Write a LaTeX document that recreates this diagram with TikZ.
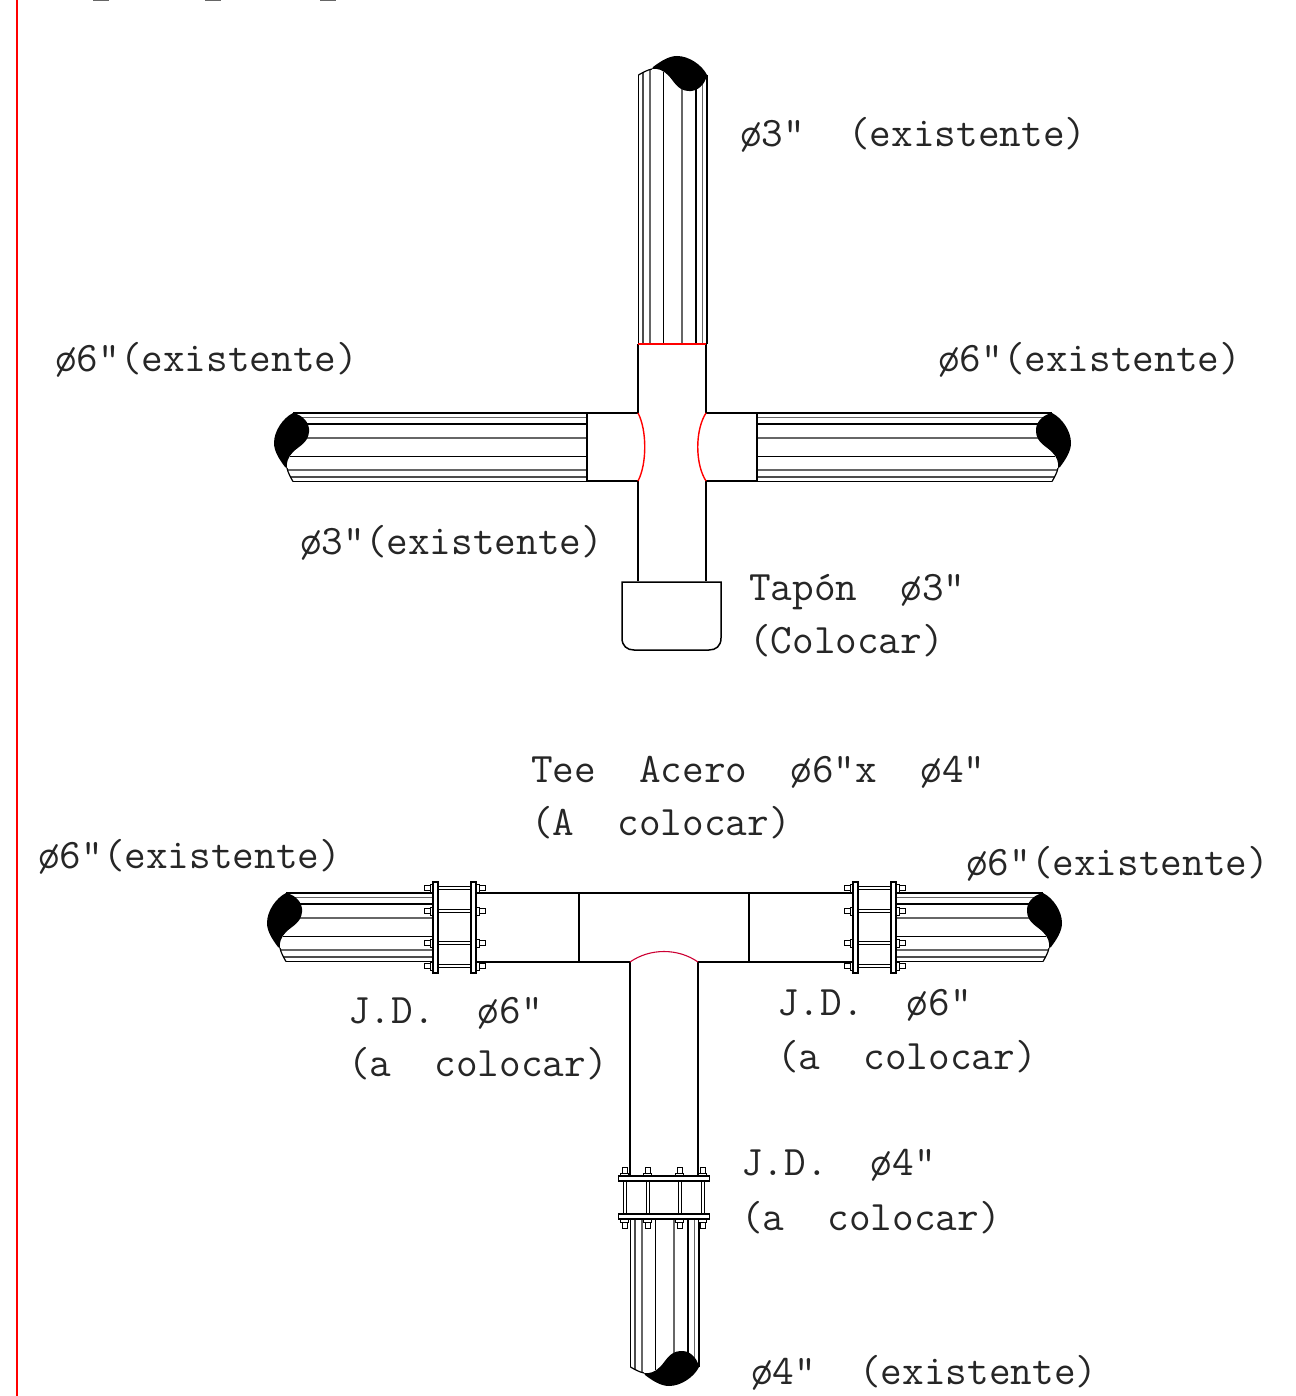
\documentclass[tikz,border=0pt]{standalone}
\usepackage{fontspec}
\tikzset{
  tube/.style={line width=1.2pt},
  seam/.style={line width=1.4pt, red},
  plate/.style={line width=1.2pt, fill=white},
  label/.style={anchor=base west, inner sep=0pt, text=black!85, font=\ttfamily\fontsize{42}{50}\selectfont},
  pics/pipecap/.style={code={
    \fill (0,0) .. controls (10,2) and (17,10) .. (16,19) .. controls (15,30) and (6,33) .. (0,39)
      .. controls (-5,44) and (-7,50) .. (-6,55) -- (-8,54) .. controls (-14,46) and (-19,38) .. (-19,30)
      .. controls (-19,18) and (-10,5) .. (0,0) -- cycle;
    \draw[tube] (-6,55) .. controls (-5,60) and (-2,65) .. (0,68.5);
  }},
  pics/pipe/.style={code={
    \foreach \off/\from/\tone in {0/0/black,4.5/0/black!60,11/0/black,25/0/black!60,43.5/-3/black,57/-5/black!60,64/-3/black!70,68.5/0/black}{
      \draw[tube, \tone] (\from,\off) -- (#1,\off);
    }
  }},
  pics/flange/.style={code={
    \foreach \b in {-39.5,-16.5,15.5,38.5}{
      \draw[plate, line width=1pt] (-16.5,\b-1.5) rectangle (16.5,\b+1.5);
      \draw[plate, line width=.9pt] (-24.5,\b-4) rectangle (-21.5,\b+4);
      \draw[plate, line width=.9pt] (-30.5,\b-2.5) rectangle (-24.5,\b+2.5);
      \draw[plate, line width=.9pt] (21.5,\b-4) rectangle (24.5,\b+4);
      \draw[plate, line width=.9pt] (24.5,\b-2.5) rectangle (30.5,\b+2.5);
    }
    \draw[plate] (-21.5,-45.5) rectangle (-16.5,45.5);
    \draw[plate] (16.5,-45.5) rectangle (21.5,45.5);
  }}
}
\begin{document}
\begin{tikzpicture}[x=1pt, y=-1pt]
  \useasboundingbox (0,0) rectangle (1295,1396);

  % margin line
  \draw[red, line width=2.6pt] (17,0) -- (17,1396);
  \foreach \x in {101,213,328}{
    \draw[black!60, line width=1.5pt] (\x-8,0.5) -- (\x+8,0.5);
  }

  % upper cross
  \pic[shift={(707,75)}, rotate=-90] {pipe=269};
  \pic[shift={(707,75)}, rotate=-90] {pipecap};
  \pic[shift={(293,413)}] {pipe=294};
  \pic[shift={(293,413)}] {pipecap};
  \pic[shift={(1052,413)}, xscale=-1] {pipe=295};
  \pic[shift={(1052,413)}, xscale=-1] {pipecap};
  \draw[tube] (638,344) -- (638,413) (706,344) -- (706,413);
  \draw[tube] (638,481) -- (638,581) (706,481) -- (706,581);
  \draw[tube] (638,413) -- (587,413) -- (587,481) -- (638,481);
  \draw[tube] (706,413) -- (757,413) -- (757,481) -- (706,481);
  \draw[seam] (638,344) -- (706,344);
  \draw[seam] (638,413) .. controls (647,430) and (647,464) .. (638,481);
  \draw[seam] (706,413) .. controls (695,430) and (695,464) .. (706,481);
  \draw[tube, line width=1.5pt] (622,582) -- (721,582) -- (721,638)
    .. controls (721,646) and (716,650) .. (709,650) -- (634,650)
    .. controls (627,650) and (622,646) .. (622,638) -- cycle;

  % lower tee
  \pic[shift={(286,893)}] {pipe=146};
  \pic[shift={(286,893)}] {pipecap};
  \pic[shift={(1043,893)}, xscale=-1] {pipe=146};
  \pic[shift={(1043,893)}, xscale=-1] {pipecap};
  \pic[shift={(699,1367)}, rotate=90, yscale=-1] {pipe=148};
  \pic[shift={(699,1367)}, rotate=90, yscale=-1] {pipecap};
  \draw[tube] (476,893) -- (853,893) (476,962) -- (630,962) (698,962) -- (853,962);
  \draw[tube] (579,893) -- (579,962) (749,893) -- (749,962);
  \draw[tube] (630,962) -- (630,1176) (698,962) -- (698,1176);
  \draw[line width=1.1pt, red!80!blue] (630,962) .. controls (650,948) and (678,948) .. (698,962);
  \pic at (454.5,927.5) {flange};
  \pic at (874.5,927.5) {flange};
  \pic[shift={(664,1197.5)}, rotate=90] {flange};

  % labels
  \node[label] (pipeA) at (740,147) {ø3”~~(existente)};
  \node[label] (pipeB) at (55,371) {ø6”(existente)};
  \node[label] (pipeC) at (938,371) {ø6”(existente)};
  \node[label] (pipeD) at (300,554) {ø3”(existente)};
  \node[label] (plugA) at (749,600) {Tapón~~ø3”};
  \node[label] (plugB) at (749,653) {(Colocar)};
  \node[label] (teeA) at (531,782) {Tee~~Acero~~ø6”x~~ø4”};
  \node[label] (teeB) at (531,835) {(A~~colocar)};
  \node[label] (pipeE) at (38,868) {ø6”(existente)};
  \node[label] (pipeF) at (966,875) {ø6”(existente)};
  \node[label] (jointA) at (348,1023) {J.D.~~ø6”};
  \node[label] (jointB) at (348,1076) {(a~~colocar)};
  \node[label] (jointC) at (777,1015) {J.D.~~ø6”};
  \node[label] (jointD) at (777,1069) {(a~~colocar)};
  \node[label] (jointE) at (741,1175) {J.D.~~ø4”};
  \node[label] (jointF) at (741,1230) {(a~~colocar)};
  \node[label] (pipeG) at (751,1384) {ø4”~~(existente)};
\end{tikzpicture}
\end{document}
